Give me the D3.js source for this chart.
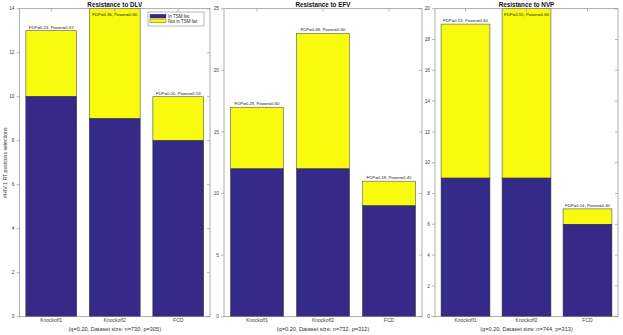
<!DOCTYPE html>
<html>
<head>
<meta charset="utf-8">
<script src="https://cdn.jsdelivr.net/npm/d3@7"></script>
<style>
  body { margin: 0; background: #fff; }
  text { font-family: "Liberation Sans", Arial, sans-serif; }
</style>
</head>
<body>
<div id="chart"></div>
<script>
// data
let methods = ["Knockoff1", "Knockoff2", "FCD"];
let drugs = ["DLV", "EFV", "NVP"];
let inTSM = [[10, 9, 8], [12, 12, 9], [9, 9, 6]];
let notInTSM = [[3, 5, 2], [5, 11, 2], [10, 11, 1]];
let fdp = [["0.23", "0.36", "0.20"], ["0.29", "0.48", "0.18"], ["0.53", "0.55", "0.14"]];
let power = [["0.67", "0.60", "0.53"], ["0.60", "0.60", "0.45"], ["0.60", "0.60", "0.40"]];
let yMax = [14, 25, 20];
let yTicks = [[0, 2, 4, 6, 8, 10, 12, 14], [0, 5, 10, 15, 20, 25], [0, 2, 4, 6, 8, 10, 12, 14, 16, 18, 20]];
let sampleN = [730, 732, 744];
let sampleP = [305, 312, 313];
let legendLabels = ["In TSM list", "Not in TSM list"];

let width = 623, height = 335;
let plotTop = 8.7, plotBottom = 316.7;
let panelX = [[19.5, 210], [224, 422], [435, 618]];
let blue = "#352a87", yellow = "#f9fb0e", axisCol = "#8a8a8a";

let svg = d3.select("#chart").append("svg").attr("width", width).attr("height", height);

// y label
svg.append("text")
    .attr("transform", `translate(7, ${(plotTop + plotBottom) / 2}) rotate(-90)`)
    .attr("text-anchor", "middle").attr("font-size", 5.2).attr("fill", "#333")
    .text("#HIV-1 RT positions selections");

drugs.forEach((drug, p) => {
    let [x0, x1] = panelX[p];
    let xScale = d3.scaleBand().domain(methods).range([x0, x1]).paddingInner(0.2).paddingOuter(0.1);
    let yScale = d3.scaleLinear().domain([0, yMax[p]]).range([plotBottom, plotTop]);
    let g = svg.append("g");

    // bars
    methods.forEach((m, i) => {
        let a = inTSM[p][i], b = notInTSM[p][i];
        g.append("rect").attr("x", xScale(m)).attr("width", xScale.bandwidth())
            .attr("y", yScale(a + b)).attr("height", yScale(a) - yScale(a + b))
            .attr("fill", yellow).attr("stroke", "#555").attr("stroke-width", 0.6);
        g.append("rect").attr("x", xScale(m)).attr("width", xScale.bandwidth())
            .attr("y", yScale(a)).attr("height", yScale(0) - yScale(a))
            .attr("fill", blue).attr("stroke", "#333").attr("stroke-width", 0.6);
        let ty = yScale(a + b) - 2;
        if (ty < plotTop + 3) ty = yScale(a + b) + 7;
        g.append("text").attr("x", xScale(m) + xScale.bandwidth() / 2).attr("y", ty)
            .attr("text-anchor", "middle").attr("font-size", 4.3).attr("fill", "#222")
            .text(`FDP=${fdp[p][i]}, Power=${power[p][i]}`);
    });

    // box
    g.append("rect").attr("x", x0).attr("y", plotTop).attr("width", x1 - x0).attr("height", plotBottom - plotTop)
        .attr("fill", "none").attr("stroke", axisCol).attr("stroke-width", 0.7);

    // y ticks left (outside) and right (inside)
    yTicks[p].forEach(t => {
        let y = yScale(t);
        g.append("line").attr("x1", x0 - 3).attr("x2", x0).attr("y1", y).attr("y2", y)
            .attr("stroke", axisCol).attr("stroke-width", 0.6);
        g.append("line").attr("x1", x1 - 3).attr("x2", x1).attr("y1", y).attr("y2", y)
            .attr("stroke", axisCol).attr("stroke-width", 0.6);
        g.append("text").attr("x", x0 - 5).attr("y", y + 1.6).attr("text-anchor", "end")
            .attr("font-size", 4.8).attr("fill", "#444").text(t);
    });

    // x ticks (top inside) and labels
    methods.forEach(m => {
        let cx = xScale(m) + xScale.bandwidth() / 2;
        g.append("line").attr("x1", cx).attr("x2", cx).attr("y1", plotTop).attr("y2", plotTop + 3)
            .attr("stroke", axisCol).attr("stroke-width", 0.6);
        g.append("text").attr("x", cx).attr("y", 322).attr("text-anchor", "middle")
            .attr("font-size", 5).attr("fill", "#444").text(m);
    });

    // title and subtitle
    g.append("text").attr("x", (x0 + x1) / 2).attr("y", 6.5).attr("text-anchor", "middle")
        .attr("font-size", 6.3).attr("font-weight", "bold").attr("fill", "#111")
        .text(`Resistance to ${drug}`);
    g.append("text").attr("x", (x0 + x1) / 2).attr("y", 330.5).attr("text-anchor", "middle")
        .attr("font-size", 5.6).attr("fill", "#333")
        .text(`(q=0.20, Dataset size: n=${sampleN[p]}, p=${sampleP[p]})`);
});

// legend in first panel
let leg = svg.append("g");
leg.append("rect").attr("x", 148).attr("y", 12).attr("width", 56).attr("height", 14)
    .attr("fill", "#fff").attr("stroke", axisCol).attr("stroke-width", 0.6);
[blue, yellow].forEach((c, i) => {
    leg.append("rect").attr("x", 150).attr("y", 14.2 + i * 4.8).attr("width", 16).attr("height", 3.8)
        .attr("fill", c).attr("stroke", "#444").attr("stroke-width", 0.4);
    leg.append("text").attr("x", 168).attr("y", 17.7 + i * 4.8).attr("font-size", 4.5)
        .attr("fill", "#222").text(legendLabels[i]);
});
</script>
</body>
</html>
